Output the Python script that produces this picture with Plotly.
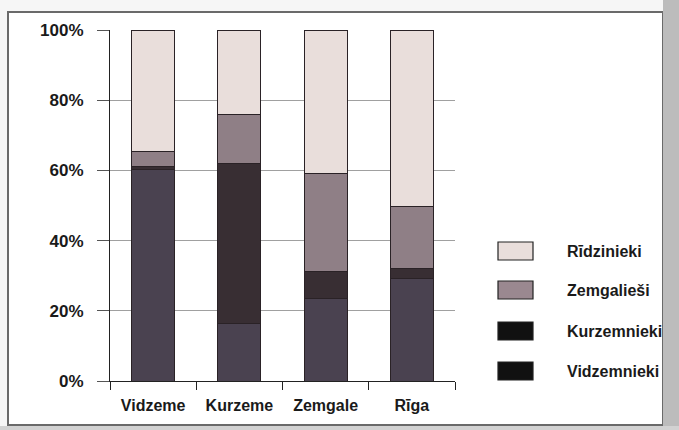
import plotly.graph_objects as go

# Regions (x categories) and the share of each origin group, in percent
regions = ["Vidzeme", "Kurzeme", "Zemgale", "Rīga"]
vidzemnieki = [60.4, 16.4, 23.5, 29.2]
kurzemnieki = [0.6, 45.6, 7.6, 2.9]
zemgaliesi = [4.5, 14.0, 28.1, 17.6]
ridzinieki = [34.5, 24.0, 40.8, 50.3]
y_ticks = [0, 20, 40, 60, 80, 100]
y_tick_labels = ["0%", "20%", "40%", "60%", "80%", "100%"]

series = [
    ("Vidzemnieki", vidzemnieki, "#4a4250"),
    ("Kurzemnieki", kurzemnieki, "#382e33"),
    ("Zemgalieši", zemgaliesi, "#8f7f86"),
    ("Rīdzinieki", ridzinieki, "#e9dedb"),
]

W, H = 679, 430
L, R, T, B = 110, 455, 30, 381  # plot area in pixels


def px(x):
    return (x - L) / (R - L)


def py(y):
    return (B - y) / (B - T)


FONT = "Liberation Sans, Arial, sans-serif"
TXT = "#1a1a1a"

fig = go.Figure()
for name, vals, color in series:
    fig.add_trace(go.Bar(
        x=regions, y=vals, name=name,
        marker=dict(color=color, line=dict(color="#2a2226", width=1)),
        width=0.5, showlegend=False,
    ))

shapes = []
# outer frame of the chart and scanned page edge
shapes.append(dict(type="rect", xref="paper", yref="paper",
                   x0=px(8), x1=px(663), y0=py(425), y1=py(12),
                   fillcolor="white", line=dict(color="#6a6a6a", width=2),
                   layer="below"))
shapes.append(dict(type="rect", xref="paper", yref="paper",
                   x0=px(663), x1=px(680), y0=py(431), y1=py(-1),
                   fillcolor="#bcbcbc", line=dict(width=0), layer="below"))
shapes.append(dict(type="rect", xref="paper", yref="paper",
                   x0=px(-1), x1=px(680), y0=py(431), y1=py(426),
                   fillcolor="#d2d2d2", line=dict(width=0), layer="below"))

annotations = []
# legend: swatches drawn as shapes with text beside them
legend_rows = [("Rīdzinieki", "#e9dedb", 251), ("Zemgalieši", "#9a8890", 290),
               ("Kurzemnieki", "#111111", 331), ("Vidzemnieki", "#111111", 371)]
for name, col, cy in legend_rows:
    shapes.append(dict(type="rect", xref="paper", yref="paper",
                       x0=px(498), x1=px(533), y0=py(cy + 9), y1=py(cy - 9),
                       fillcolor=col, line=dict(color="#222222", width=1.2)))
    annotations.append(dict(xref="paper", yref="paper", x=px(565), y=py(cy),
                            text="<b>" + name + "</b>", showarrow=False,
                            xanchor="left", yanchor="middle",
                            font=dict(family=FONT, size=16, color=TXT)))

fig.update_layout(
    width=W, height=H,
    margin=dict(l=L, r=W - R, t=T, b=H - B, pad=0),
    barmode="stack",
    paper_bgcolor="#f6f6f6",
    plot_bgcolor="rgba(0,0,0,0)",
    shapes=shapes,
    annotations=annotations,
    font=dict(family=FONT, size=16, color=TXT),
    xaxis=dict(
        type="category", showline=True, linecolor="#222222", linewidth=1.2,
        ticks="outside", tickson="boundaries", ticklen=8, tickcolor="#222222",
        showgrid=False, ticklabelstandoff=10,
        tickfont=dict(family=FONT, size=16, color=TXT, weight="bold"),
        range=[-0.5, 3.5],
    ),
    yaxis=dict(
        range=[0, 100], tickvals=y_ticks, ticktext=y_tick_labels,
        showline=True, linecolor="#222222", linewidth=1.2,
        ticks="outside", ticklen=12, tickcolor="#555555",
        showgrid=True, gridcolor="#a0a0a0", gridwidth=1,
        zeroline=False, ticklabelstandoff=10,
        tickfont=dict(family=FONT, size=17, color=TXT, weight="bold"),
    ),
)

fig.write_html("out.html")
